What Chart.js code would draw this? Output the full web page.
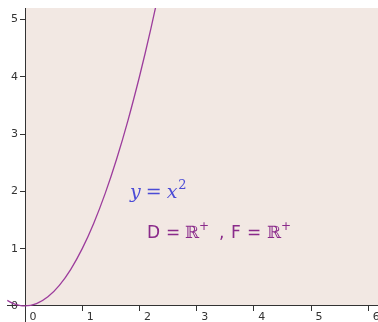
<!DOCTYPE html>
<html>
<head>
<meta charset="utf-8">
<script src="https://cdn.jsdelivr.net/npm/chart.js@4"></script>
<style>
  html, body { margin: 0; padding: 0; background: #fff; }
  #wrap { width: 378px; height: 322px; }
</style>
</head>
<body>
<div id="wrap"><canvas id="mycanvas"></canvas></div>
<script>
var xs = [-0.31, -0.2, -0.1, 0, 0.2, 0.4, 0.6, 0.8, 1.0, 1.2, 1.4, 1.6, 1.8, 2.0, 2.1, 2.2, 2.3];
var ys = [0.0961, 0.04, 0.01, 0, 0.04, 0.16, 0.36, 0.64, 1.0, 1.44, 1.96, 2.56, 3.24, 4.0, 4.41, 4.84, 5.29];
var xTicks = [0, 1, 2, 3, 4, 5, 6];
var yTicks = [0, 1, 2, 3, 4, 5];
var xRange = [-0.315, 6.17];
var yRange = [-0.28, 5.2];

var pts = [];
for (var i in xs) {
  pts.push({x: xs[i], y: ys[i]});
}

var axisColor = '#333333';

function noSpace(s) {
  if (s.isHorizontal()) s.height = 0; else s.width = 0;
  s.paddingLeft = 0; s.paddingRight = 0; s.paddingTop = 0; s.paddingBottom = 0;
}

// pink background over x>=0, y>=0 and the two text labels
var decor = {
  id: 'decor',
  beforeDraw: function(chart) {
    var c = chart.ctx, a = chart.chartArea;
    var x0 = chart.scales.x.getPixelForValue(0);
    var y0 = chart.scales.y.getPixelForValue(0);
    c.save();
    c.fillStyle = '#f2e8e3';
    c.fillRect(x0, a.top, a.right - x0, y0 - a.top);
    c.restore();
  },
  afterDraw: function(chart) {
    var c = chart.ctx;
    c.save();
    c.textBaseline = 'alphabetic';
    // y = x^2
    c.fillStyle = '#4b4bd6';
    var x = 130, b = 198;
    c.font = 'italic 19px "DejaVu Serif"';
    c.fillText('y', x, b); x += c.measureText('y').width + 5;
    c.font = '19px "DejaVu Serif"';
    c.fillText('=', x, b); x += c.measureText('=').width + 5;
    c.font = 'italic 19px "DejaVu Serif"';
    c.fillText('x', x, b); x += c.measureText('x').width + 1;
    c.font = '13px "DejaVu Serif"';
    c.fillText('2', x, b - 9);
    // D = R+, F = R+
    c.fillStyle = '#8a2a8a';
    b = 238;
    var big = '17px "DejaVu Sans"', rr = '17px "DejaVu Serif"', sup = '12px "DejaVu Sans"';
    var parts = [['D', big, 0, 147], ['=', big, 0, 166], ['\u211D', rr, 0, 185], ['+', sup, -8, 199],
                 [',', big, 0, 219], ['F', big, 0, 231], ['=', big, 0, 247], ['\u211D', rr, 0, 267], ['+', sup, -8, 281]];
    for (var k in parts) {
      c.font = parts[k][1];
      c.fillText(parts[k][0], parts[k][3], b + parts[k][2]);
    }
    c.restore();
  }
};

var ctx = document.getElementById('mycanvas');
new Chart(ctx, {
  type: 'scatter',
  data: {
    datasets: [{
      data: pts,
      showLine: true,
      borderColor: '#9c3c9c',
      borderWidth: 1.3,
      pointRadius: 0,
      tension: 0.4,
      cubicInterpolationMode: 'monotone'
    }]
  },
  options: {
    responsive: true,
    maintainAspectRatio: false,
    animation: false,
    layout: { autoPadding: false, padding: { left: 7, top: 8, right: 0, bottom: 0 } },
    plugins: { legend: { display: false }, tooltip: { enabled: false } },
    scales: {
      x: {
        type: 'linear',
        position: { y: 0 },
        min: xRange[0],
        max: xRange[1],
        afterBuildTicks: function(s) { s.ticks = xTicks.map(function(v) { return {value: v}; }); },
        afterFit: noSpace,
        grid: { drawOnChartArea: false, drawTicks: true, tickLength: 5, color: axisColor },
        border: { display: true, color: axisColor, width: 1 },
        ticks: { color: '#333', font: { family: 'DejaVu Sans', size: 11 }, padding: 0, labelOffset: 8, maxRotation: 0 }
      },
      y: {
        type: 'linear',
        position: { x: 0 },
        min: yRange[0],
        max: yRange[1],
        afterBuildTicks: function(s) { s.ticks = yTicks.map(function(v) { return {value: v}; }); },
        afterFit: noSpace,
        grid: { drawOnChartArea: false, drawTicks: true, tickLength: 5, color: axisColor },
        border: { display: true, color: axisColor, width: 1 },
        ticks: {
          color: '#333',
          font: { family: 'DejaVu Sans', size: 11 },
          // labels sit right on the axis here, so push them left past the tick
          callback: function(v) { return v + '\u00a0\u00a0'; }
        }
      }
    }
  },
  plugins: [decor]
});
</script>
</body>
</html>
